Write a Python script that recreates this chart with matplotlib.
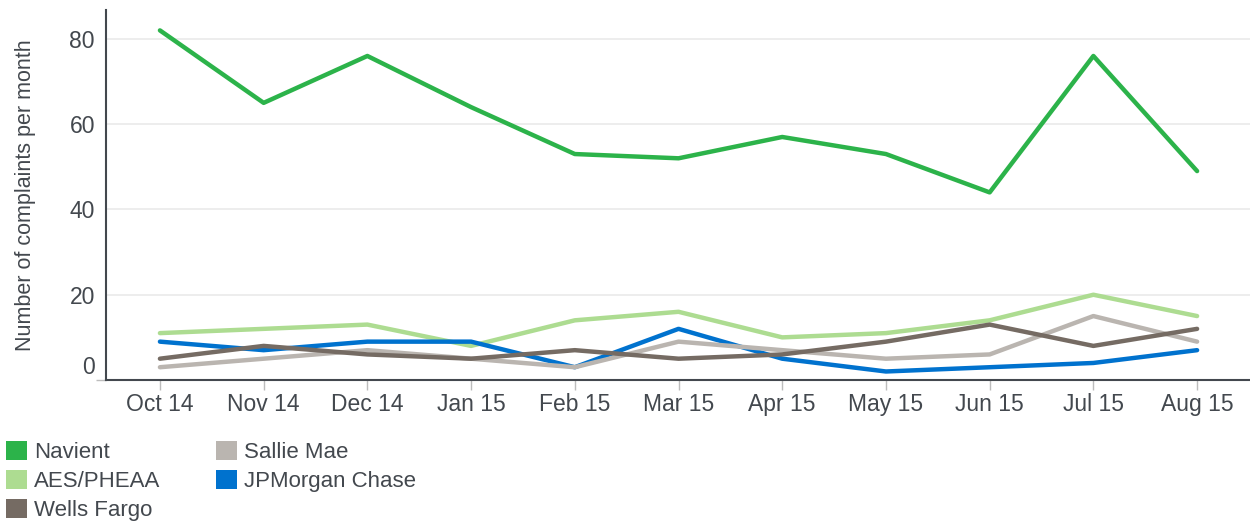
import matplotlib.pyplot as plt
from matplotlib.patches import Patch

# monthly complaint counts
months = ['Oct 14', 'Nov 14', 'Dec 14', 'Jan 15', 'Feb 15', 'Mar 15',
          'Apr 15', 'May 15', 'Jun 15', 'Jul 15', 'Aug 15']
navient = [82, 65, 76, 64, 53, 52, 57, 53, 44, 76, 49]
aes_pheaa = [11, 12, 13, 8, 14, 16, 10, 11, 14, 20, 15]
wells_fargo = [5, 8, 6, 5, 7, 5, 6, 9, 13, 8, 12]
sallie_mae = [3, 5, 7, 5, 3, 9, 7, 5, 6, 15, 9]
jpmorgan = [9, 7, 9, 9, 3, 12, 5, 2, 3, 4, 7]

series_names = ['Navient', 'AES/PHEAA', 'Wells Fargo', 'Sallie Mae', 'JPMorgan Chase']
colors = ['#2cb34a', '#addc91', '#756b63', '#bab5b0', '#0072ce']

text_color = '#43484e'
plt.rcParams['font.family'] = ['Liberation Sans', 'DejaVu Sans']

fig = plt.figure(figsize=(12.5, 5.22), dpi=100)
ax = fig.add_axes([0.0848, 0.272, 0.9152, 0.709])

x = list(range(len(months)))
lw = 3.2
ax.plot(x, navient, color=colors[0], lw=lw, solid_capstyle='round', zorder=3)
ax.plot(x, aes_pheaa, color=colors[1], lw=lw, solid_capstyle='round', zorder=3)
ax.plot(x, jpmorgan, color=colors[4], lw=lw, solid_capstyle='round', zorder=3)
ax.plot(x, sallie_mae, color=colors[3], lw=lw, solid_capstyle='round', zorder=3)
ax.plot(x, wells_fargo, color=colors[2], lw=lw, solid_capstyle='round', zorder=3)

ax.set_xlim(-0.52, 10.51)
ax.set_ylim(0, 86.8)

ax.set_xticks(x)
ax.set_xticklabels(months)
ax.tick_params(axis='x', length=7, color='#bcbcbc', width=1, labelsize=16.5,
               labelcolor=text_color, pad=2)

ax.set_yticks([20, 40, 60, 80])
ax.tick_params(axis='y', length=0, labelsize=16.5, labelcolor=text_color, pad=8)
ax.set_yticks([0], minor=True)
ax.tick_params(axis='y', which='minor', length=7, color='#bcbcbc', width=1)
ax.annotate('0', xy=(0, 0), xycoords=('axes fraction', 'data'),
            xytext=(-8, 9), textcoords='offset points', ha='right', va='center',
            fontsize=16.5, color=text_color)
ax.grid(axis='y', color='#ececec', lw=1.3, zorder=0)

for side in ['top', 'right']:
    ax.spines[side].set_visible(False)
for side in ['left', 'bottom']:
    ax.spines[side].set_color('#43484e')
    ax.spines[side].set_linewidth(1.5)

ax.set_ylabel('Number of complaints per month', fontsize=15.5, color=text_color,
              labelpad=24)

handles = [Patch(facecolor=c, edgecolor='none') for c in colors]
fig.legend(handles, series_names, loc='upper left', bbox_to_anchor=(0.005, 0.155),
           ncol=2, frameon=False, fontsize=16, handlelength=0.95, handleheight=0.95,
           handletextpad=0.3, labelspacing=0.3, columnspacing=2.5,
           borderaxespad=0, borderpad=0, labelcolor=text_color)

fig.savefig('out.png', dpi=100)
